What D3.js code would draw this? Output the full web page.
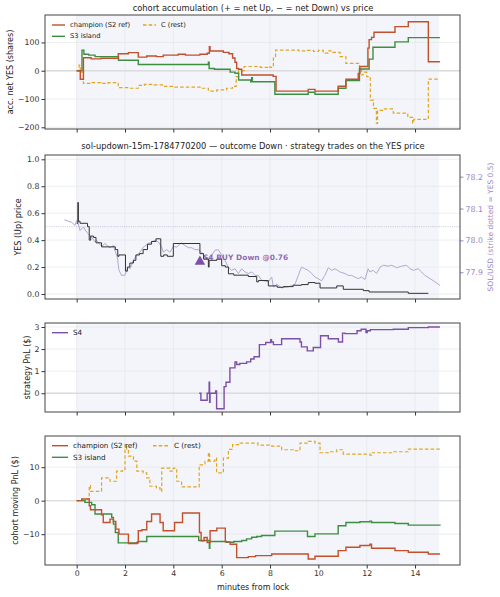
<!DOCTYPE html>
<html>
<head>
<meta charset="utf-8">
<script src="https://cdn.jsdelivr.net/npm/d3@7"></script>
<style>
  body { margin: 0; background: #fff; }
  svg { font-family: "DejaVu Sans", sans-serif; }
</style>
</head>
<body>
<div id="chart"></div>
<script>
// ---- data (minutes from lock, value) ----
var xTicks = [0, 2, 4, 6, 8, 10, 12, 14];

// panel 1: accumulated net YES shares
var accChampion = [[0,0],[0.15,-30],[0.28,46],[0.6,42],[1.0,44],[1.72,60],[2.14,64],[2.55,48],[2.9,52],[3.3,50],[3.58,55],[4.2,58],[4.5,55],[5.1,58],[5.4,62],[5.49,85],[5.52,70],[6.07,65],[6.3,60],[6.45,45],[6.55,30],[6.62,8],[6.7,5],[6.83,-15],[8.13,-20],[8.25,-72],[9.58,-66],[9.86,-72],[10.82,-55],[11.14,-30],[11.65,-10],[11.72,15],[12.05,80],[12.1,110],[12.2,118],[12.3,136],[13.17,156],[13.72,173],[14.55,32],[15.03,32]];
var accS3 = [[0,0],[0.22,73],[0.3,58],[0.5,55],[0.76,50],[1.72,50],[1.73,37],[2.55,22],[5.45,30],[5.48,8],[5.7,5],[6.35,-5],[6.55,-9],[6.7,-33],[7.2,-39],[7.24,-25],[7.27,-39],[8.2,-83],[9.58,-76],[9.86,-83],[10.82,-62],[11.14,-35],[11.7,6],[12.1,41],[12.26,83],[13.17,102],[13.72,117],[15.03,117]];
var accRest = [[0,0],[0.1,20],[0.15,-5],[0.28,-45],[0.6,-42],[1.0,-45],[1.3,-42],[1.72,-60],[2.2,-62],[2.55,-52],[2.8,-48],[3.2,-50],[3.6,-55],[4.0,-58],[4.6,-58],[5.2,-62],[5.45,-72],[5.8,-68],[6.2,-62],[6.45,-55],[6.6,-21],[6.7,0],[6.93,15],[7.6,12],[7.9,15],[8.0,12],[8.14,45],[8.23,73],[9.2,70],[9.5,72],[9.8,68],[10.0,72],[10.2,62],[10.4,70],[10.6,65],[10.9,50],[11.14,26],[11.7,8],[11.79,-15],[11.85,-5],[12.0,-21],[12.15,-104],[12.28,-133],[12.4,-186],[12.45,-140],[12.7,-135],[13.1,-150],[13.7,-165],[13.9,-185],[13.95,-172],[14.55,-30],[15.03,-30]];

// panel 2: YES price and SOL/USD
var yesPrice = [[0,0.525],[0.05,0.68],[0.07,0.54],[0.14,0.525],[0.45,0.5],[0.52,0.4],[0.58,0.43],[0.7,0.42],[0.8,0.38],[1.03,0.35],[1.45,0.35],[1.6,0.33],[1.7,0.28],[1.75,0.29],[2.02,0.17],[2.1,0.2],[2.2,0.23],[2.35,0.25],[2.45,0.29],[2.6,0.3],[2.75,0.33],[2.93,0.37],[3.1,0.39],[3.28,0.41],[3.48,0.28],[3.6,0.29],[3.75,0.28],[4.0,0.375],[5.1,0.3],[5.25,0.26],[5.45,0.2],[5.48,0.25],[5.8,0.26],[6.0,0.21],[6.15,0.2],[6.28,0.15],[6.5,0.14],[7.1,0.13],[7.45,0.09],[7.52,0.1],[7.93,0.06],[8.3,0.05],[8.55,0.055],[8.96,0.065],[9.3,0.07],[9.58,0.085],[9.86,0.08],[10.07,0.045],[10.76,0.06],[11.03,0.035],[11.86,0.025],[12.1,0.015],[13.72,0.005],[14.55,0.005]];
var solUsd = [[-0.51,78.065],[-0.35,78.06],[-0.21,78.057],[-0.07,78.047],[0,78.063],[0.07,78.052],[0.14,78.031],[0.28,78.042],[0.41,78.026],[0.48,78.021],[0.62,78.01],[0.76,77.995],[0.83,78.0],[1.03,77.981],[1.17,77.99],[1.38,77.977],[1.52,77.984],[1.58,77.969],[1.68,77.948],[1.75,77.906],[1.86,77.89],[2.0,77.891],[2.07,77.906],[2.14,77.916],[2.21,77.911],[2.34,77.937],[2.48,77.953],[2.62,77.963],[2.76,77.979],[2.96,77.99],[3.1,77.995],[3.24,78.0],[3.38,77.995],[3.52,77.979],[3.58,77.963],[3.72,77.971],[3.86,77.963],[4.0,77.981],[4.14,77.979],[4.32,77.992],[4.48,77.984],[4.62,77.977],[4.76,77.977],[4.89,77.971],[5.03,77.971],[5.17,77.963],[5.31,77.948],[5.45,77.937],[5.59,77.953],[5.72,77.969],[5.86,77.971],[6.0,77.953],[6.14,77.937],[6.27,77.916],[6.41,77.906],[6.55,77.911],[6.69,77.896],[6.83,77.911],[6.96,77.901],[7.1,77.896],[7.24,77.901],[7.38,77.89],[7.52,77.89],[7.65,77.875],[7.93,77.87],[8.07,77.885],[8.14,77.854],[8.28,77.862],[8.48,77.851],[8.76,77.854],[9.03,77.862],[9.17,77.89],[9.3,77.916],[9.44,77.911],[9.58,77.906],[9.72,77.896],[9.86,77.885],[9.99,77.88],[10.13,77.873],[10.27,77.89],[10.41,77.914],[10.55,77.906],[10.69,77.911],[10.89,77.901],[11.1,77.896],[11.24,77.89],[11.37,77.89],[11.51,77.885],[11.65,77.88],[11.79,77.885],[11.93,77.877],[12.06,77.911],[12.13,77.901],[12.27,77.906],[12.41,77.896],[12.55,77.916],[12.69,77.922],[12.89,77.919],[13.03,77.922],[13.24,77.914],[13.44,77.919],[13.65,77.922],[13.79,77.911],[13.93,77.906],[14.13,77.911],[14.27,77.901],[14.41,77.89],[14.62,77.88],[14.82,77.87],[15.03,77.859]];
var strikeYes = 0.5;
var s4Trade = {t: 5.1, price: 0.24, label: "S4 BUY Down @0.76"};

// panel 3: S4 strategy PnL
var pnlS4 = [[5.07,0],[5.14,-0.32],[5.4,0],[5.48,0.5],[5.5,-0.41],[5.52,0],[5.75,0.1],[5.79,-0.7],[6.1,0.3],[6.18,0.5],[6.34,1.15],[6.55,1.42],[6.62,1.3],[6.75,1.35],[7.03,1.42],[7.2,1.55],[7.34,1.65],[7.56,2.2],[7.82,2.3],[8.03,2.42],[8.06,2.32],[8.14,2.2],[8.48,2.47],[9.24,2.32],[9.3,2.1],[9.54,1.92],[9.79,2.07],[10.09,2.6],[10.41,2.47],[10.83,2.32],[11.0,2.72],[11.1,2.7],[11.6,2.83],[11.77,2.9],[11.97,2.75],[12.02,2.83],[12.15,2.88],[13.1,2.9],[13.72,2.97],[14.55,3.0],[15.03,3.0]];

// panel 4: cohort moving PnL
var pnlChampion = [[0,0],[0.21,0.5],[0.52,-1.5],[0.57,-2.7],[1.03,-4.2],[1.1,-6.5],[1.38,-5.5],[1.52,-6.2],[1.62,-8.5],[1.75,-10],[2.14,-12.8],[2.5,-12.4],[2.55,-9],[2.7,-8.7],[2.9,-6.2],[3.1,-4],[3.45,-6.5],[3.58,-9],[4.05,-6.5],[4.38,-3.7],[5.08,-9.5],[5.15,-12],[5.27,-11],[5.4,-12.5],[5.52,-9],[5.8,-8.2],[6.15,-12.3],[6.35,-13],[6.62,-17],[7.1,-16.7],[7.4,-16.4],[8.07,-15.9],[9.58,-17.4],[9.86,-16.6],[10.82,-14.9],[11.14,-13.9],[11.72,-13.4],[12.13,-13],[12.2,-14.2],[13.17,-14.9],[13.72,-15.4],[14.55,-15.9],[15.03,-15.9]];
var pnlS3 = [[0,0],[0.34,-0.5],[0.62,-1.2],[0.76,-4],[1.45,-5],[1.52,-7],[1.6,-9.5],[1.72,-12.6],[2.2,-12.6],[2.55,-12.2],[2.9,-10.7],[5.05,-11.9],[5.49,-14.2],[5.51,-12.2],[6.2,-12.4],[6.5,-12.2],[6.83,-11.9],[7.03,-11.4],[7.24,-10.9],[7.45,-10.7],[7.65,-10.4],[8.2,-9.1],[9.5,-9.1],[9.55,-10.7],[9.86,-9.9],[10.82,-7.5],[11.14,-6.5],[11.72,-6.3],[12.13,-6.1],[12.2,-6.5],[13.17,-6.8],[13.72,-7.3],[15.03,-7.5]];
var pnlRest = [[0,0],[0.41,0.5],[0.52,4.5],[0.57,2.8],[1.03,6.8],[1.38,5.8],[1.65,8.8],[1.9,9.3],[2.0,16.7],[2.07,15.4],[2.14,13.3],[2.35,11.8],[2.49,8.8],[2.75,8.3],[2.9,6.8],[3.03,4.3],[3.3,3.8],[3.45,2.8],[3.52,9.7],[3.86,8.8],[4.0,9.7],[4.14,5.8],[4.34,4.1],[5.07,10.7],[5.31,11.8],[5.45,14.3],[5.5,11.8],[5.72,12.7],[5.79,8.3],[6.07,12.7],[6.28,15.3],[6.45,16.7],[6.76,17.2],[7.5,16.6],[8.07,16.3],[8.48,15.2],[8.96,14.9],[9.24,17.2],[9.58,17.7],[9.86,17.2],[10.07,14.3],[10.4,14.6],[10.76,15.2],[11.03,13.9],[12.13,13.6],[12.2,14.3],[13.1,14.6],[13.72,15.4],[15.03,15.6]];

// ---- colours ----
var cChampion = "#c1502d", cS3 = "#3e8e41", cRest = "#e3a521",
    cS4 = "#7d4fa6", cSol = "#b7a5d5", cSolAxis = "#9d87c4", cPrice = "#333333";

// ---- layout ----
var width = 500, height = 597;
var x = d3.scaleLinear().domain([-1.31, 15.86]).range([45, 460]);

var svg = d3.select("#chart").append("svg")
    .attr("width", width)
    .attr("height", height);

var panels = [
  {top: 15,  bottom: 129, y: d3.scaleLinear().domain([-206, 197]).range([129, 15]),
   ticks: [-200, -100, 0, 100], fmt: d3.format("d"), label: "acc. net YES (shares)", labelX: 10, zero: true},
  {top: 155, bottom: 299, y: d3.scaleLinear().domain([-0.037, 1.032]).range([299, 155]),
   ticks: [0, 0.2, 0.4, 0.6, 0.8, 1.0], fmt: d3.format(".1f"), label: "YES (Up) price", labelX: 18, zero: false},
  {top: 323, bottom: 412, y: d3.scaleLinear().domain([-0.85, 3.18]).range([412, 323]),
   ticks: [0, 1, 2, 3], fmt: d3.format("d"), label: "strategy PnL ($)", labelX: 27, zero: true},
  {top: 436, bottom: 565, y: d3.scaleLinear().domain([-19.2, 19.3]).range([565, 436]),
   ticks: [-10, 0, 10], fmt: d3.format("d"), label: "cohort moving PnL ($)", labelX: 15, zero: true}
];

var ySol = d3.scaleLinear().domain([77.816, 78.268]).range([299, 155]);

function stepLine(y) {
  return d3.line()
    .x(function(d) { return x(d[0]); })
    .y(function(d) { return y(d[1]); })
    .curve(d3.curveStepAfter);
}

panels.forEach(function(p, i) {
  var g = svg.append("g");
  var clipId = "clip" + i;
  svg.append("clipPath").attr("id", clipId)
    .append("rect").attr("x", 45).attr("y", p.top).attr("width", 415).attr("height", p.bottom - p.top);

  // locked window shading
  g.append("rect")
    .attr("x", x(0)).attr("y", p.top)
    .attr("width", x(15) - x(0)).attr("height", p.bottom - p.top)
    .attr("fill", "#f3f5fa");

  // grid
  g.selectAll(".gx").data(xTicks).enter().append("line")
    .attr("x1", function(d) { return x(d); }).attr("x2", function(d) { return x(d); })
    .attr("y1", p.top).attr("y2", p.bottom)
    .attr("stroke", "#e4e6ea").attr("stroke-width", 0.7);
  g.selectAll(".gy").data(p.ticks).enter().append("line")
    .attr("x1", 45).attr("x2", 460)
    .attr("y1", function(d) { return p.y(d); }).attr("y2", function(d) { return p.y(d); })
    .attr("stroke", "#e4e6ea").attr("stroke-width", 0.7);

  if (p.zero) {
    g.append("line")
      .attr("x1", 45).attr("x2", 460)
      .attr("y1", p.y(0)).attr("y2", p.y(0))
      .attr("stroke", "#dcdcdc").attr("stroke-width", 1.3);
  }

  p.g = g;
  p.plot = svg.append("g").attr("clip-path", "url(#" + clipId + ")");

  // y axis
  var ya = svg.append("g")
    .attr("transform", "translate(45,0)")
    .call(d3.axisLeft(p.y).tickValues(p.ticks).tickFormat(p.fmt).tickSize(3.5).tickPadding(2));
  ya.select(".domain").remove();
  ya.selectAll("text").attr("font-size", 7.8).attr("fill", "#333").attr("font-family", "DejaVu Sans");
  ya.selectAll("line").attr("stroke", "#333");

  // x axis
  var xa = svg.append("g")
    .attr("transform", "translate(0," + p.bottom + ")")
    .call(d3.axisBottom(x).tickValues(xTicks).tickFormat(i === 3 ? d3.format("d") : "").tickSize(3.5).tickPadding(2));
  xa.select(".domain").remove();
  xa.selectAll("text").attr("font-size", 7.8).attr("fill", "#333").attr("font-family", "DejaVu Sans");
  xa.selectAll("line").attr("stroke", "#333");

  // y label
  svg.append("text")
    .attr("transform", "translate(" + p.labelX + "," + ((p.top + p.bottom) / 2) + ") rotate(-90)")
    .attr("text-anchor", "middle")
    .attr("dominant-baseline", "central")
    .attr("font-size", 8)
    .attr("fill", "#222")
    .text(p.label);
});

// ---- panel 1 ----
var p1 = panels[0];
p1.plot.append("path").datum(accRest).attr("d", stepLine(p1.y))
  .attr("fill", "none").attr("stroke", cRest).attr("stroke-width", 1.2).attr("stroke-dasharray", "3.5,2.2");
p1.plot.append("path").datum(accS3).attr("d", stepLine(p1.y))
  .attr("fill", "none").attr("stroke", cS3).attr("stroke-width", 1.4);
p1.plot.append("path").datum(accChampion).attr("d", stepLine(p1.y))
  .attr("fill", "none").attr("stroke", cChampion).attr("stroke-width", 1.4);

svg.append("text").attr("x", 253).attr("y", 11).attr("text-anchor", "middle")
  .attr("font-size", 8.3).attr("fill", "#222")
  .text("cohort accumulation (+ = net Up, \u2212 = net Down) vs price");

// ---- panel 2 ----
var p2 = panels[1];
p2.plot.append("line")
  .attr("x1", 45).attr("x2", 460)
  .attr("y1", p2.y(strikeYes)).attr("y2", p2.y(strikeYes))
  .attr("stroke", "#b3abc9").attr("stroke-width", 0.7).attr("stroke-dasharray", "1,1.2");
p2.plot.append("path").datum(solUsd)
  .attr("d", d3.line().x(function(d) { return x(d[0]); }).y(function(d) { return ySol(d[1]); }))
  .attr("fill", "none").attr("stroke", cSol).attr("stroke-width", 1);
p2.plot.append("path").datum(yesPrice).attr("d", stepLine(p2.y))
  .attr("fill", "none").attr("stroke", cPrice).attr("stroke-width", 1);

p2.plot.append("path")
  .attr("d", d3.symbol().type(d3.symbolTriangle).size(48)())
  .attr("transform", "translate(" + x(s4Trade.t) + "," + p2.y(s4Trade.price) + ")")
  .attr("fill", cS4);
p2.plot.append("text")
  .attr("x", x(s4Trade.t) + 3).attr("y", p2.y(s4Trade.price) - 1.5)
  .attr("font-size", 7.5).attr("font-weight", "bold").attr("fill", cS4).attr("fill-opacity", 0.85)
  .text(s4Trade.label);

var ra = svg.append("g")
  .attr("transform", "translate(460,0)")
  .call(d3.axisRight(ySol).tickValues([77.9, 78.0, 78.1, 78.2]).tickFormat(d3.format(".1f")).tickSize(3.5).tickPadding(2));
ra.select(".domain").remove();
ra.selectAll("text").attr("font-size", 7.8).attr("fill", cSolAxis).attr("font-family", "DejaVu Sans");
ra.selectAll("line").attr("stroke", cSolAxis);

svg.append("text")
  .attr("transform", "translate(490,227) rotate(-90)")
  .attr("text-anchor", "middle").attr("dominant-baseline", "central")
  .attr("font-size", 7.5).attr("fill", cSolAxis)
  .text("SOL/USD (strike dotted = YES 0.5)");

svg.append("text").attr("x", 253).attr("y", 149).attr("text-anchor", "middle")
  .attr("font-size", 8.3).attr("fill", "#222")
  .text("sol-updown-15m-1784770200 \u2014 outcome Down \u00b7 strategy trades on the YES price");

// ---- panel 3 ----
var p3 = panels[2];
p3.plot.append("path").datum(pnlS4).attr("d", stepLine(p3.y))
  .attr("fill", "none").attr("stroke", cS4).attr("stroke-width", 1.4);

// ---- panel 4 ----
var p4 = panels[3];
p4.plot.append("path").datum(pnlRest).attr("d", stepLine(p4.y))
  .attr("fill", "none").attr("stroke", cRest).attr("stroke-width", 1.2).attr("stroke-dasharray", "3.5,2.2");
p4.plot.append("path").datum(pnlS3).attr("d", stepLine(p4.y))
  .attr("fill", "none").attr("stroke", cS3).attr("stroke-width", 1.4);
p4.plot.append("path").datum(pnlChampion).attr("d", stepLine(p4.y))
  .attr("fill", "none").attr("stroke", cChampion).attr("stroke-width", 1.4);

svg.append("text").attr("x", 253).attr("y", 590).attr("text-anchor", "middle")
  .attr("font-size", 8).attr("fill", "#222")
  .text("minutes from lock");

// ---- legends ----
function legend(items, x0, y0, rowH, colW, fontSize, lineLen) {
  items.forEach(function(it, k) {
    var col = it.col, row = it.row;
    var lx = x0 + col * colW, ly = y0 + row * rowH;
    svg.append("line")
      .attr("x1", lx).attr("x2", lx + lineLen).attr("y1", ly).attr("y2", ly)
      .attr("stroke", it.color).attr("stroke-width", 1.4)
      .attr("stroke-dasharray", it.dash ? "3.5,2.2" : null);
    svg.append("text")
      .attr("x", lx + lineLen + 5).attr("y", ly).attr("dominant-baseline", "central")
      .attr("font-size", fontSize).attr("fill", "#222")
      .text(it.name);
  });
}
var cohortItems = [
  {name: "champion (S2 ref)", color: cChampion, col: 0, row: 0},
  {name: "S3 island", color: cS3, col: 0, row: 1},
  {name: "C (rest)", color: cRest, dash: true, col: 1, row: 0}
];
legend(cohortItems, 52, 25, 11.3, 91, 6.7, 13);
legend([{name: "S4", color: cS4, col: 0, row: 0}], 52, 332.7, 11.6, 100, 7.2, 16);
legend(cohortItems, 52, 445.7, 11.6, 101, 7.2, 16);

// ---- frames ----
panels.forEach(function(p) {
  svg.append("rect")
    .attr("x", 45).attr("y", p.top)
    .attr("width", 415).attr("height", p.bottom - p.top)
    .attr("fill", "none").attr("stroke", "#444").attr("stroke-width", 1);
});
</script>
</body>
</html>
